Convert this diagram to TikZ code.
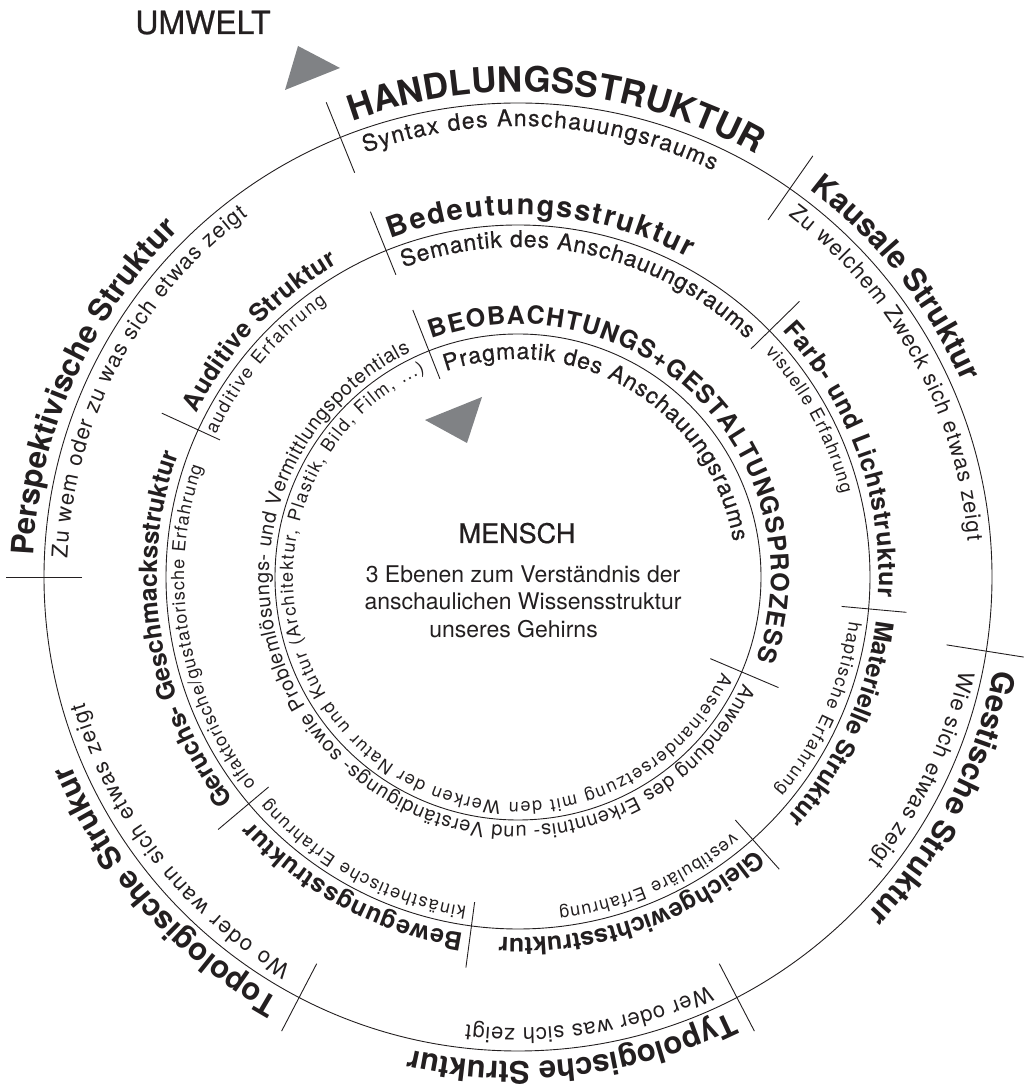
\documentclass[tikz,border=0pt]{standalone}
\usepackage{fontspec}
\setmainfont{TeX Gyre Heros}
\newfontfamily\medfont[FakeBold=0.6]{TeX Gyre Heros}
\usetikzlibrary{decorations.text}
\definecolor{ink}{HTML}{231F20}
\definecolor{trigray}{HTML}{808285}
% radius, start angle, end angle, font, text
\newcommand\ringtext[5]{%
  \path[decorate, decoration={text along path, text align=fit to path,
    text color=ink, text={|#4|#5}}]
    ([shift={(#2:#1pt)}]O) arc[start angle=#2, end angle=#3, radius=#1pt];}
% angle, radius, inner offset, outer offset
\newcommand\ringdivider[4]{%
  \draw[ringline] ([shift={(#1:#2pt-#3pt)}]O) -- ([shift={(#1:#2pt+#4pt)}]O);}
\newcommand\fs[1]{\fontsize{#1}{#1}\selectfont}
\begin{document}
\begin{tikzpicture}[x=1pt,y=1pt,
  ringline/.style={draw=ink, line width=0.9pt},
  tri/.style={fill=trigray, draw=none},
  centertext/.style={text=ink, inner sep=0pt, anchor=base}]
\useasboundingbox (0,0) rectangle (1034,1090);
\coordinate (O) at (518,513);

% circles
\draw[ringline] (O) circle[radius=474pt];
\draw[ringline] (O) circle[radius=352pt];
\draw[ringline] (O) circle[radius=243pt];

% outer dividers
\ringdivider{112}{474}{38}{38}
\ringdivider{55}{474}{38}{40}
\ringdivider{-9}{474}{40}{38}
\ringdivider{-62.5}{474}{38}{38}
\ringdivider{-117.5}{474}{38}{38}
\ringdivider{180}{474}{38}{38}
% middle dividers
\ringdivider{112}{352}{26}{42}
\ringdivider{44.4}{352}{26}{42}
\ringdivider{-5.2}{352}{27}{38}
\ringdivider{-48.2}{352}{26}{40}
\ringdivider{-97.6}{352}{24}{42}
\ringdivider{-139.9}{352}{26}{40}
\ringdivider{155.3}{352}{24}{40}
% inner dividers
\ringdivider{111.5}{243}{30}{44}
\ringdivider{-23}{243}{34}{40}

% outer ring texts
\ringtext{485}{110}{60.5}{\bfseries\fs{35}}{HANDLUNGSSTRUKTUR}
\ringtext{451}{109.8}{64.3}{\medfont\fs{23}}{Syntax des Anschauungsraums}
\ringtext{485}{53}{24}{\bfseries\fs{31}}{Kausale Struktur}
\ringtext{451}{53.2}{4.6}{\fs{22}}{Zu welchem Zweck sich etwas zeigt}
\ringtext{485}{-11}{-44}{\bfseries\fs{31}}{Gestische Struktur}
\ringtext{451}{-12}{-39}{\fs{22}}{Wie sich etwas zeigt}
\ringtext{485}{-64}{-102.2}{\bfseries\fs{31}}{Typologische Struktur}
\ringtext{451}{-65}{-96.6}{\fs{22}}{Wer oder was sich zeigt}
\ringtext{485}{-119.4}{-156.8}{\bfseries\fs{31}}{Topologische Strukur}
\ringtext{451}{-120.2}{-163.8}{\fs{22}}{Wo oder wann sich etwas zeigt}
\ringtext{485}{177.5}{135}{\bfseries\fs{31}}{Perspektivische Struktur}
\ringtext{451}{177.6}{126.8}{\fs{22}}{Zu wem oder zu was sich etwas zeigt}

% middle ring texts
\ringtext{362}{110.6}{61.9}{\bfseries\fs{29}}{Bedeutungsstruktur}
\ringtext{330}{110.3}{46.1}{\medfont\fs{23}}{Semantik des Anschauungsraums}
\ringtext{361}{43}{-3.2}{\bfseries\fs{25}}{Farb- und Lichtstruktur}
\ringtext{334}{42.3}{14.4}{\fs{18}}{visuelle Erfahrung}
\ringtext{361}{-6.9}{-41.6}{\bfseries\fs{25}}{Materielle Struktur}
\ringtext{334}{-7.6}{-39.7}{\fs{18}}{haptische Erfahrung}
\ringtext{361}{-48.9}{-92.9}{\bfseries\fs{25}}{Gleichgewichtsstruktur}
\ringtext{334}{-50}{-83}{\fs{18}}{vestibuläre Erfahrung}
\ringtext{361}{-98.7}{-137.4}{\bfseries\fs{25}}{Bewegungsstruktur}
\ringtext{334}{-98.9}{-138.4}{\fs{18}}{kinästhetische Erfahrung}
\ringtext{361}{218.1}{160.1}{\bfseries\fs{25}}{Geruchs- Geschmacksstruktur}
\ringtext{334}{218.3}{160.8}{\fs{18}}{olfaktorische/gustatorische Erfahrung}
\ringtext{361}{153}{119.9}{\bfseries\fs{25}}{Auditive Struktur}
\ringtext{334}{154.8}{124.9}{\fs{18}}{auditive Erfahrung}

% inner ring texts
\ringtext{253}{109.9}{-19.3}{\bfseries\fs{25}}{BEOBACHTUNGS+GESTALTUNGSPROZESS}
\ringtext{218}{109.3}{9.3}{\medfont\fs{23}}{Pragmatik des Anschauungsraums}
\ringtext{249}{-25.4}{-244.5}{\fs{20}}{Anwendung des Erkenntnis- und Verständigungs- sowie Problemlösungs- und Vermittlungspotentials}
\ringtext{225}{-25}{-245.6}{\fs{18}}{Auseinandersetzung mit den Werken der Natur und Kutur (Architektur, Plastik, Bild, Film, ...)}

% triangles
\fill[tri] (285,1000) -- (298,1044) -- (340,1022) -- cycle;
\fill[tri] (425,670) -- (482,693) -- (467,647) -- cycle;

% centre and labels
\node[centertext, font=\medfont\fs{27}] (mensch) at (517,547) {MENSCH};
\node[centertext, font=\fs{23}] (ebenen1) at (523,507) {3 Ebenen zum Verständnis der};
\node[centertext, font=\fs{23}] (ebenen2) at (523,480) {anschaulichen Wissensstruktur};
\node[centertext, font=\fs{23}] (ebenen3) at (513.5,452) {unseres Gehirns};
\node[centertext, font=\medfont\fs{32}] (umwelt) at (203,1056) {UMWELT};
\end{tikzpicture}
\end{document}
